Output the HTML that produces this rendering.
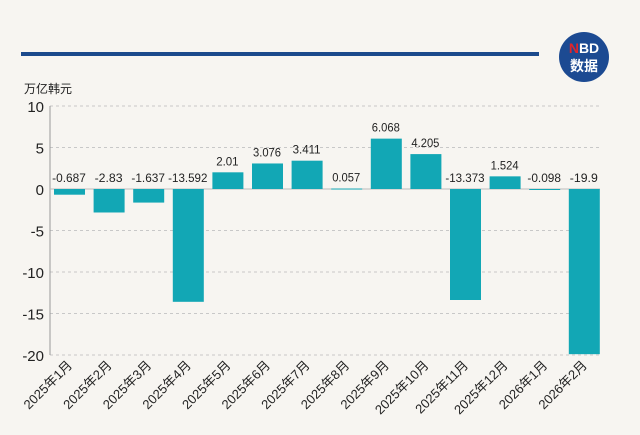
<!DOCTYPE html>
<html><head><meta charset="utf-8"><style>
body{margin:0;background:#f7f5f1;}
svg{display:block;font-family:"Liberation Sans","Noto Sans CJK SC",sans-serif;}
</style></head><body>
<svg id="c" width="640" height="435" viewBox="0 0 640 435">
<rect width="640" height="435" fill="#f7f5f1"/>
<rect x="21" y="52" width="518" height="4" fill="#1b4a8c"/>
<g>
<circle cx="584" cy="57" r="25" fill="#1c4a92"/>
<text x="584" y="53" text-anchor="middle" font-size="14" font-weight="bold" fill="#fff"><tspan fill="#e0252b">N</tspan>BD</text>
<text x="584" y="71" text-anchor="middle" font-size="14" font-weight="bold" fill="#fff">数据</text>
</g>
<text x="24" y="93" font-size="12" fill="#222">万亿韩元</text>
<g id="grid"></g><g id="bars"></g><g id="labels"></g>
</svg>
<script>
const categories=["2025年1月","2025年2月","2025年3月","2025年4月","2025年5月","2025年6月","2025年7月","2025年8月","2025年9月","2025年10月","2025年11月","2025年12月","2026年1月","2026年2月"];
const values=[-0.687,-2.83,-1.637,-13.592,2.01,3.076,3.411,0.057,6.068,4.205,-13.373,1.524,-0.098,-19.9];
const valueLabels=["-0.687","-2.83","-1.637","-13.592","2.01","3.076","3.411","0.057","6.068","4.205","-13.373","1.524","-0.098","-19.9"];
const yTicks=[10,5,0,-5,-10,-15,-20];
const NS="http://www.w3.org/2000/svg";
const y=v=>189-v*8.3;
const x=i=>69+i*39.6;
function mk(t,a,p){const e=document.createElementNS(NS,t);for(const k in a)e.setAttribute(k,a[k]);p.appendChild(e);return e;}
const g=document.getElementById('grid'),b=document.getElementById('bars'),l=document.getElementById('labels');
yTicks.forEach(t=>{
 if(t!==0){const ln=mk('line',{x1:50,x2:600,y1:y(t),y2:y(t),stroke:'#c8c8c8','stroke-dasharray':'3,3'},g);
 
 }
 const tx=mk('text',{x:44,y:y(t)+6,'text-anchor':'end','font-size':15,fill:'#222'},g);tx.textContent=t;
 
 
});
const ax=mk('line',{x1:50,x2:50,y1:y(10),y2:y(-20),stroke:'#999'},g);


const zl=mk('line',{x1:50,x2:600,y1:y(0),y2:y(0),stroke:'#bbb'},g);


values.forEach((v,i)=>{
 const top=Math.min(y(v),y(0)),h=Math.max(Math.abs(y(v)-y(0)),1);
 const r=mk('rect',{x:x(i)-15,y:top,width:31,height:h,fill:'#12a7b5'},b);
 
 
 const ly=v>=0?y(v)-7:y(0)-7;
 const t=mk('text',{x:x(i),y:ly,'text-anchor':'middle','font-size':11.5,fill:'#222',textLength:valueLabels[i].length*5.6,lengthAdjust:'spacingAndGlyphs'},l);t.textContent=valueLabels[i];
 
 
 const c=mk('text',{x:x(i)+4,y:366,'text-anchor':'end','font-size':13,fill:'#222',transform:`rotate(-45 ${x(i)+4} 366)`},l);c.textContent=categories[i];
 
 
});
</script>
</body></html>
